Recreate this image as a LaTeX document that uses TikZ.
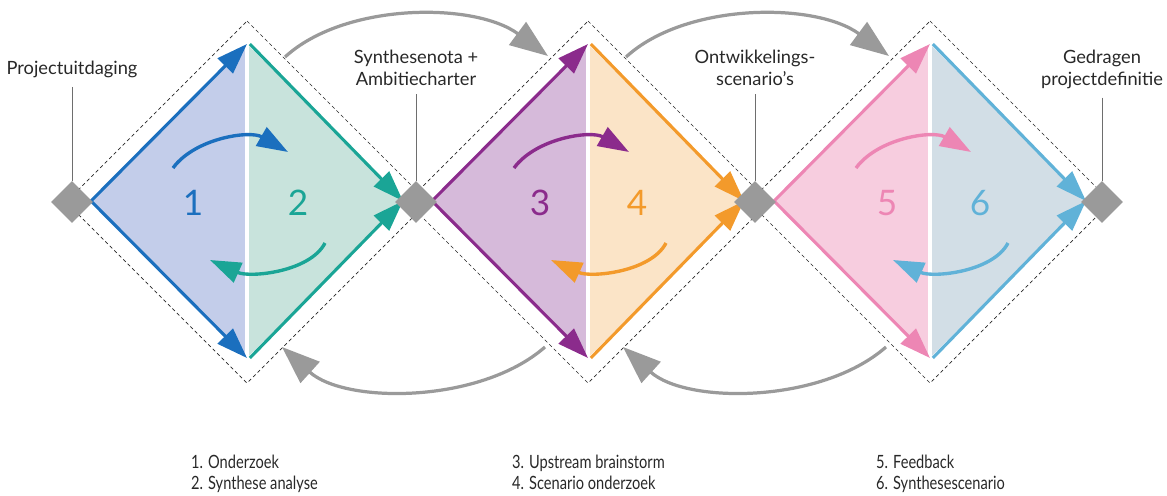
\documentclass[tikz,border=0pt]{standalone}
\usepackage{fontspec}
\setmainfont{Lato}
\usepackage{xcolor}
\usetikzlibrary{arrows.meta,positioning,shapes.geometric}

\definecolor{blueA}{RGB}{27,111,190}
\definecolor{blueF}{RGB}{195,205,234}
\definecolor{tealA}{RGB}{26,165,150}
\definecolor{tealF}{RGB}{200,227,220}
\definecolor{purpleA}{RGB}{139,43,140}
\definecolor{purpleF}{RGB}{214,186,218}
\definecolor{orangeA}{RGB}{243,154,43}
\definecolor{orangeF}{RGB}{251,228,199}
\definecolor{pinkA}{RGB}{237,134,180}
\definecolor{pinkF}{RGB}{247,205,223}
\definecolor{skyA}{RGB}{96,178,216}
\definecolor{skyF}{RGB}{210,222,230}
\definecolor{gateGray}{RGB}{154,154,154}
\definecolor{leaderGray}{RGB}{110,110,110}
\definecolor{textGray}{RGB}{40,40,40}

\tikzset{
  gate/.style={diamond,fill=gateGray,draw=none,inner sep=0pt,minimum size=30pt},
  frame/.style={dash pattern=on 2.5pt off 2pt,line width=0.5pt,black!85},
  edge/.style={line width=2.2pt,line join=miter},
  gap/.style={white,line width=3.5pt},
  spin/.style={line width=2.4pt,->},
  loopback/.style={gateGray,line width=2.3pt,-{Triangle[length=27pt,width=20pt]}},
  leader/.style={leaderGray,line width=0.6pt,shorten <=6pt},
  lbl/.style={inner sep=0pt,align=center,text=textGray,font=\fontsize{13}{15.5}\selectfont},
  num/.style={inner sep=0pt,font=\fontsize{25}{30}\selectfont},
  keytext/.style={inner sep=0pt,align=left,text=textGray,font=\fontsize{13}{15}\selectfont,xscale=0.8,transform shape}
}

\begin{document}
\begin{tikzpicture}[x=0.025cm,y=-0.025cm,>={Triangle[length=22pt,width=15pt]}]
\useasboundingbox (0,0) rectangle (1167,495);

% dashed frames
\draw[frame] (247,21) -- (428,202) -- (247,383) -- (66,202) -- cycle;
\draw[frame] (588,21) -- (769,202) -- (588,383) -- (407,202) -- cycle;
\draw[frame] (930,21) -- (1111,202) -- (930,383) -- (749,202) -- cycle;

% diamond 1
\coordinate (c1) at (247,201);
\coordinate (L1) at (91,201);
\coordinate (T1) at (247,44);
\coordinate (B1) at (247,358);
\coordinate (R1) at (403,201);
\fill[blueF] (L1) -- (T1) -- (B1) -- cycle;
\fill[tealF] (T1) -- (R1) -- (B1) -- cycle;
\draw[gap] (T1) -- (B1);
\draw[edge,blueA,<->] (T1) -- (L1) -- (B1);
\draw[edge,tealA,->] ([xshift=2pt]T1) -- (R1);
\draw[edge,tealA,->] ([xshift=2pt]B1) -- (R1);
\draw[spin,blueA] ([shift={(-74,-33)}]c1) .. controls +(22,-30) and +(-38,-22) .. ([shift={(41,-49)}]c1);
\draw[spin,tealA] ([shift={(78,42)}]c1) .. controls +(-15,29) and +(40,18) .. ([shift={(-37,59)}]c1);
\node[num,text=blueA] (n1) at (193,203) {1};
\node[num,text=tealA] (n2) at (298,203) {2};

% diamond 2
\coordinate (c2) at (588,201);
\coordinate (L2) at (432,201);
\coordinate (T2) at (588,44);
\coordinate (B2) at (588,358);
\coordinate (R2) at (744,201);
\fill[purpleF] (L2) -- (T2) -- (B2) -- cycle;
\fill[orangeF] (T2) -- (R2) -- (B2) -- cycle;
\draw[gap] (T2) -- (B2);
\draw[edge,purpleA,<->] (T2) -- (L2) -- (B2);
\draw[edge,orangeA,->] ([xshift=2pt]T2) -- (R2);
\draw[edge,orangeA,->] ([xshift=2pt]B2) -- (R2);
\draw[spin,purpleA] ([shift={(-74,-33)}]c2) .. controls +(22,-30) and +(-38,-22) .. ([shift={(41,-49)}]c2);
\draw[spin,orangeA] ([shift={(78,42)}]c2) .. controls +(-15,29) and +(40,18) .. ([shift={(-37,59)}]c2);
\node[num,text=purpleA] (n3) at (540,203) {3};
\node[num,text=orangeA] (n4) at (637,203) {4};

% diamond 3
\coordinate (c3) at (930,201);
\coordinate (L3) at (774,201);
\coordinate (T3) at (930,44);
\coordinate (B3) at (930,358);
\coordinate (R3) at (1086,201);
\fill[pinkF] (L3) -- (T3) -- (B3) -- cycle;
\fill[skyF] (T3) -- (R3) -- (B3) -- cycle;
\draw[gap] (T3) -- (B3);
\draw[edge,pinkA,<->] (T3) -- (L3) -- (B3);
\draw[edge,skyA,->] ([xshift=2pt]T3) -- (R3);
\draw[edge,skyA,->] ([xshift=2pt]B3) -- (R3);
\draw[spin,pinkA] ([shift={(-74,-33)}]c3) .. controls +(22,-30) and +(-38,-22) .. ([shift={(41,-49)}]c3);
\draw[spin,skyA] ([shift={(78,42)}]c3) .. controls +(-15,29) and +(40,18) .. ([shift={(-37,59)}]c3);
\node[num,text=pinkA] (n5) at (887,203) {5};
\node[num,text=skyA] (n6) at (980,203) {6};

% gates
\node[gate] (g0) at (72,202) {};
\node[gate] (g1) at (416,202) {};
\node[gate] (g2) at (755,202) {};
\node[gate] (g3) at (1102,202) {};

% loops between the diamonds
\coordinate (u1s) at (285,57);
\coordinate (u1e) at (548,56);
\coordinate (d1s) at (545,347);
\coordinate (d1e) at (282,347);
\coordinate (u2s) at (626,57);
\coordinate (u2e) at (889,56);
\coordinate (d2s) at (886,347);
\coordinate (d2e) at (623,347);
\draw[loopback] (u1s) .. controls +(60,-55) and +(-73,-54) .. (u1e);
\draw[loopback] (d1s) .. controls +(-65,57) and +(63,57) .. (d1e);
\draw[loopback] (u2s) .. controls +(60,-55) and +(-73,-54) .. (u2e);
\draw[loopback] (d2s) .. controls +(-65,57) and +(63,57) .. (d2e);

% labels
\node[lbl,anchor=north] (p0) at (72,61) {Projectuitdaging};
\node[lbl,anchor=north] (p1) at (416,50) {Synthesenota +\\Ambitiecharter};
\node[lbl,anchor=north] (p2) at (755,50) {Ontwikkelings-\\scenario’s};
\node[lbl,anchor=north] (p3) at (1102,50) {Gedragen\\projectdefinitie};
\draw[leader] (p0) -- (g0);
\draw[leader] (p1) -- (g1);
\draw[leader] (p2) -- (g2);
\draw[leader] (p3) -- (g3);

% legend
\node[keytext,anchor=north west] (k1) at (191,455) {1. Onderzoek\\2. Synthese analyse};
\node[keytext,anchor=north west] (k2) at (512,455) {3. Upstream brainstorm\\4. Scenario onderzoek};
\node[keytext,anchor=north west] (k3) at (876,455) {5. Feedback\\6. Synthesescenario};
\end{tikzpicture}
\end{document}
